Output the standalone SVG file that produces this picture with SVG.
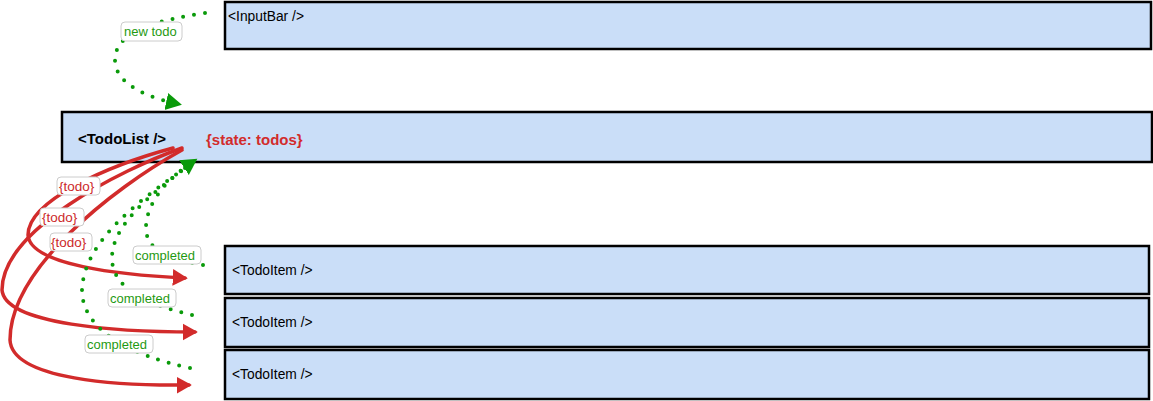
<svg xmlns="http://www.w3.org/2000/svg" width="1153" height="401" viewBox="0 0 1153 401">
<style>
.box{fill:#cadef8;stroke:#000;stroke-width:2.5}
.lbl{font-family:"Liberation Sans",Arial,sans-serif;font-size:13.8px;fill:#000}
.red{fill:none;stroke:#d22b2b;stroke-width:3.5;stroke-linecap:round}
.grn{fill:none;stroke:#0a9a0a;stroke-width:4;stroke-linecap:round;stroke-dasharray:0 11}
.tag{fill:#fff;stroke:#ccc;stroke-width:1}
.tg{font-family:"Liberation Sans",Arial,sans-serif;font-size:13px;fill:#1f9a12}
.tr{font-family:"Liberation Sans",Arial,sans-serif;font-size:13.5px;fill:#cc2a2a}
</style>
<defs>
<marker id="ar" markerWidth="5" markerHeight="6" refX="3.5" refY="3" orient="auto" markerUnits="strokeWidth"><path d="M0,0.6 L4.3,3 L0,5.4 z" fill="#d22b2b"/></marker>
<marker id="ag" markerWidth="5" markerHeight="5" refX="3" refY="2.5" orient="auto" markerUnits="strokeWidth"><path d="M0,0.3 L4,2.5 L0,4.7 z" fill="#0a9a0a"/></marker>
</defs>
<g id="inputbar"><rect class="box" x="225" y="2" width="926" height="47"/><text class="lbl" x="228" y="21">&lt;InputBar /&gt;</text></g>
<g id="todolist"><rect class="box" x="62" y="112" width="1090" height="50"/><text x="78" y="144" style="font-family:'Liberation Sans',Arial,sans-serif;font-weight:bold;font-size:15px">&lt;TodoList /&gt;</text><text x="206" y="145" style="font-family:'Liberation Sans',Arial,sans-serif;font-weight:bold;font-size:15px;fill:#d22b2b">{state: todos}</text></g>
<g id="todoitem1"><rect class="box" x="225" y="246" width="924" height="48"/><text class="lbl" x="232" y="275">&lt;TodoItem /&gt;</text></g>
<g id="todoitem2"><rect class="box" x="225" y="298" width="924" height="49"/><text class="lbl" x="232" y="327">&lt;TodoItem /&gt;</text></g>
<g id="todoitem3"><rect class="box" x="225" y="350" width="924" height="49"/><text class="lbl" x="232" y="379">&lt;TodoItem /&gt;</text></g>
<g id="connectors">
<path class="grn" d="M205,13 C160,20 115,30 115,60 C115,85 150,98 178,104" marker-end="url(#ag)"/>
<path class="red" d="M173,148 C110,165 28,200 28,235 C30,265 120,275 185,278" marker-end="url(#ar)"/>
<path class="red" d="M182,148 C120,170 2,230 2,290 C5,325 120,332 195,332" marker-end="url(#ar)"/>
<path class="red" d="M182,150 C110,190 10,270 10,340 C12,380 120,386 189,385" marker-end="url(#ar)"/>
<path class="grn" d="M203,265 C170,258 148,252 146,230 C145,205 165,180 194,161" marker-end="url(#ag)"/>
<path class="grn" d="M192,315 C150,305 112,290 112,258 C112,225 150,195 192,163"/>
<path class="grn" d="M190,368 C130,355 82,330 82,290 C84,240 140,200 192,163"/>
<g id="lbl-newtodo"><rect class="tag" x="121" y="22" width="61" height="19" rx="4"/><text class="tg" x="124" y="36">new todo</text></g>
<g id="lbl-todo1"><rect class="tag" x="57" y="177" width="43" height="18" rx="4"/><text class="tr" x="59" y="191">{todo}</text></g>
<g id="lbl-todo2"><rect class="tag" x="40" y="208" width="44" height="18" rx="4"/><text class="tr" x="42" y="222">{todo}</text></g>
<g id="lbl-todo3"><rect class="tag" x="50" y="233" width="42" height="18" rx="4"/><text class="tr" x="51" y="247">{todo}</text></g>
<g id="lbl-c1"><rect class="tag" x="133" y="246" width="68" height="18" rx="4"/><text class="tg" x="135" y="260">completed</text></g>
<g id="lbl-c2"><rect class="tag" x="108" y="289" width="68" height="18" rx="4"/><text class="tg" x="110" y="303">completed</text></g>
<g id="lbl-c3"><rect class="tag" x="85" y="335" width="68" height="18" rx="4"/><text class="tg" x="87" y="349">completed</text></g>
</g>
</svg>
